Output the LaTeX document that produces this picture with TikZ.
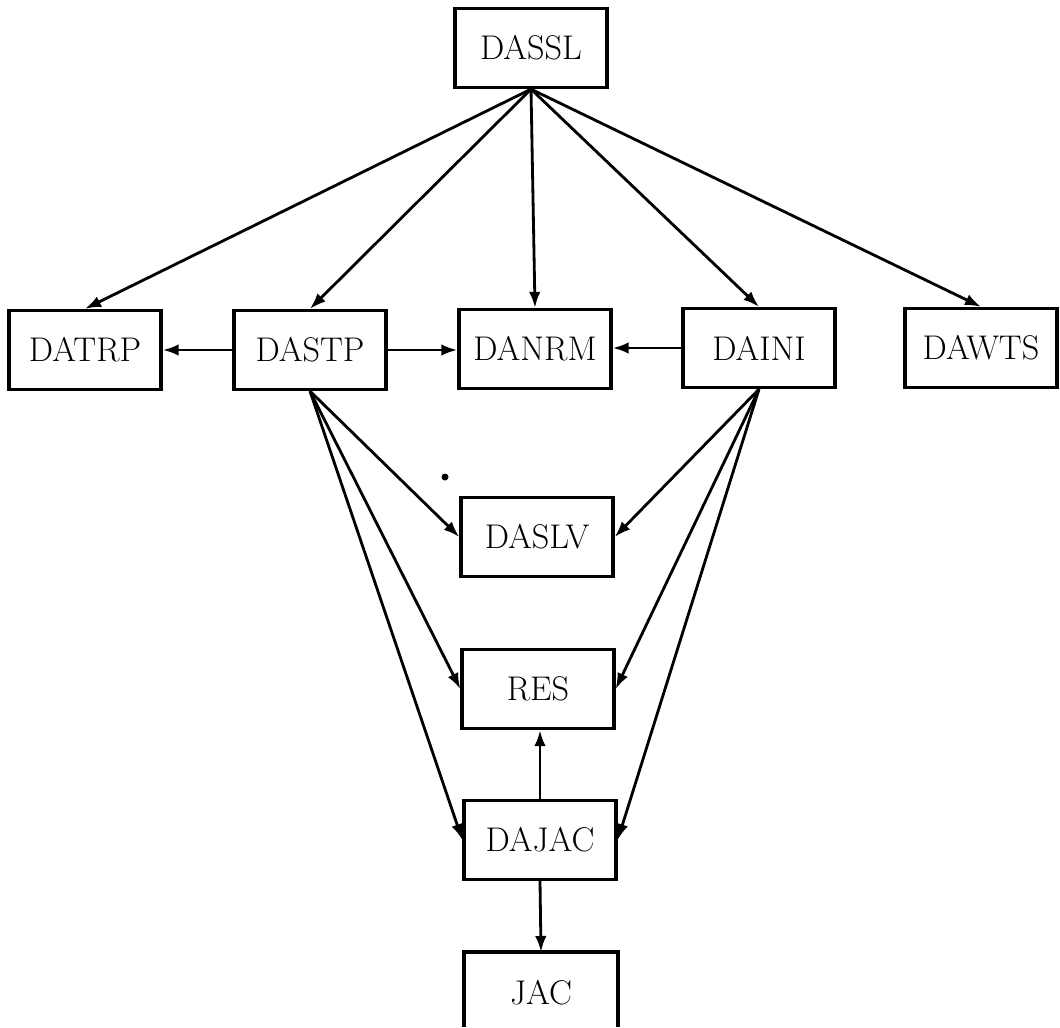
\documentclass[tikz,border=0pt]{standalone}
\usetikzlibrary{arrows.meta}
\begin{document}
\begin{tikzpicture}[x=0.02cm,y=-0.02cm,
  box/.style={draw, line width=1.9pt, minimum width=3.04cm, minimum height=1.58cm, inner sep=0pt, font=\fontsize{19.5}{22}\selectfont},
  arr/.style={line width=1.6pt, -{Latex[length=3.2mm,width=2.3mm]}},
  lbl/.style={inner sep=0pt, font=\fontsize{19.5}{22}\selectfont}]
\useasboundingbox (0,0) rectangle (1060,1027);
\node[box] (dassl) at (531,48) {DASSL};
\node[box] (datrp) at (85,350) {DATRP};
\node[box] (dastp) at (310,350) {DASTP};
\node[box] (danrm) at (535,349) {DANRM};
\node[box] (daini) at (759,348) {DAINI};
\node[box] (dawts) at (981,348) {DAWTS};
\node[box] (daslv) at (537,537) {DASLV};
\node[box] (res) at (538,689) {RES};
\node[box] (dajac) at (540,840) {DAJAC};
\node[lbl] (jac) at (541,993) {JAC};
\coordinate (jactop) at (541,952);
\draw[line width=1.9pt] (464,1027) -- (464,952) -- (618,952) -- (618,1027);
% from DASSL
\draw[arr] (dassl.south) -- (datrp.north);
\draw[arr] (dassl.south) -- (dastp.north);
\draw[arr] (dassl.south) -- (danrm.north);
\draw[arr] (dassl.south) -- (daini.north);
\draw[arr] (dassl.south) -- (dawts.north);
% horizontal
\draw[arr] (dastp.west) -- (datrp.east);
\draw[arr] (dastp.east) -- (dastp.east -| danrm.west);
\draw[arr] (daini.west) -- (daini.west -| danrm.east);
% from DASTP
\draw[arr] (dastp.south) -- (daslv.west);
\draw[arr] (dastp.south) -- (res.west);
\draw[arr] (dastp.south) -- (dajac.west);
% from DAINI
\draw[arr] (daini.south) -- (daslv.east);
\draw[arr] (daini.south) -- (res.east);
\draw[arr] (daini.south) -- (dajac.east);
% DAJAC
\draw[arr] (dajac.north) -- (dajac.north |- res.south);
\draw[arr] (dajac.south) -- (jactop);
% stray dot
\fill (445,477) circle (3.5);
\end{tikzpicture}
\end{document}
